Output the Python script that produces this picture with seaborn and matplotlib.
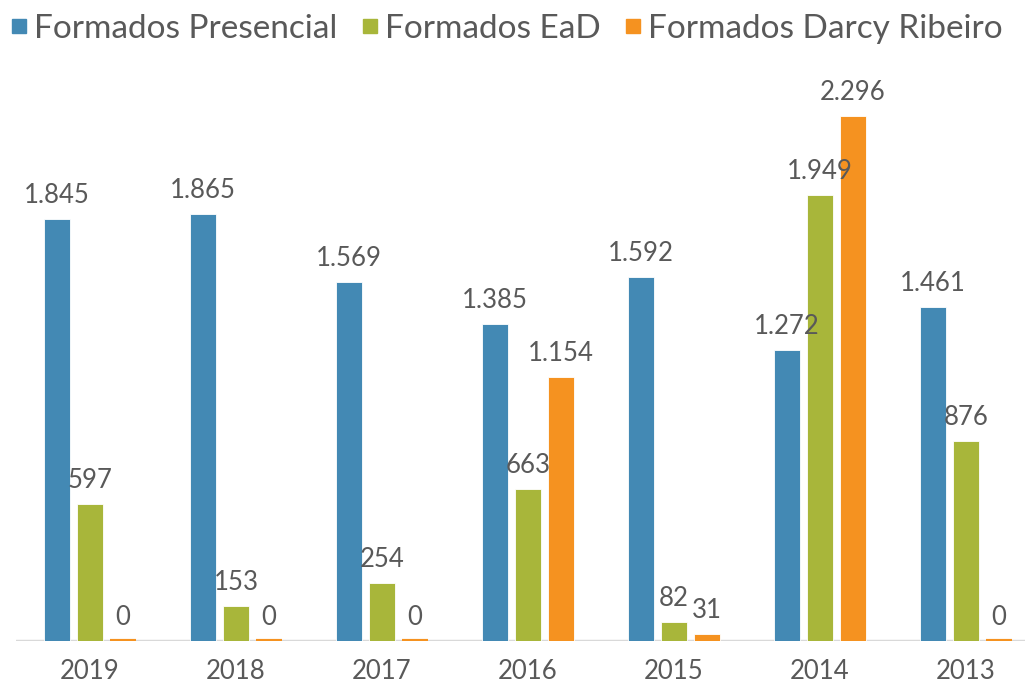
import seaborn as sns
import matplotlib.pyplot as plt
import pandas as pd
from matplotlib.lines import Line2D

anos = ['2019', '2018', '2017', '2016', '2015', '2014', '2013']
series = ['Formados Presencial', 'Formados EaD', 'Formados Darcy Ribeiro']
presencial = [1845, 1865, 1569, 1385, 1592, 1272, 1461]
ead = [597, 153, 254, 663, 82, 1949, 876]
darcy = [0, 0, 0, 1154, 31, 2296, 0]
cores = ['#4389b4', '#a8b63a', '#f59220']

df = pd.DataFrame({
    'ano': anos * 3,
    'serie': [series[0]] * 7 + [series[1]] * 7 + [series[2]] * 7,
    'valor': presencial + ead + darcy,
})

sns.set_style('white')
plt.rcParams['font.family'] = ['Lato', 'DejaVu Sans']
cinza = '#595959'

fig = plt.figure(figsize=(10.25, 6.86), dpi=100)
ax = fig.add_axes([16 / 1025, 45 / 686, 1 - 16 / 1025, 641 / 686])

sns.barplot(data=df, x='ano', y='valor', hue='serie', palette=cores, saturation=1,
            width=0.678, gap=0.21, edgecolor='white', linewidth=0.6,
            ax=ax, legend=False)

# barras com valor zero aparecem como um tracinho
for p in ax.patches:
    if p.get_height() == 0:
        p.set_edgecolor(p.get_facecolor())
        p.set_linewidth(3)

for cont in ax.containers:
    labels = [f"{int(v):,}".replace(',', '.') for v in cont.datavalues]
    ax.bar_label(cont, labels=labels, padding=8, fontsize=18.5, color=cinza)

ax.set_xlim(-0.507, 6.404)
ax.set_ylim(0, 641 / 0.2287)
ax.axhline(0, color='#d9d9d9', lw=2.5, zorder=0)
sns.despine(ax=ax, left=True, bottom=True)
ax.set_yticks([])
ax.set_xlabel('')
ax.set_ylabel('')
ax.tick_params(axis='x', length=0, pad=13, labelsize=18.5, labelcolor=cinza)

handles = [Line2D([], [], marker='s', linestyle='', color=c, markersize=10.5) for c in cores]
fig.legend(handles, series, loc='upper left', bbox_to_anchor=(0.01, 0.98), ncol=3,
           frameon=False, fontsize=24, labelcolor=cinza, handletextpad=0.2,
           columnspacing=0.73, handlelength=0.5, borderpad=0, borderaxespad=0)

plt.savefig('out.png', dpi=100)
